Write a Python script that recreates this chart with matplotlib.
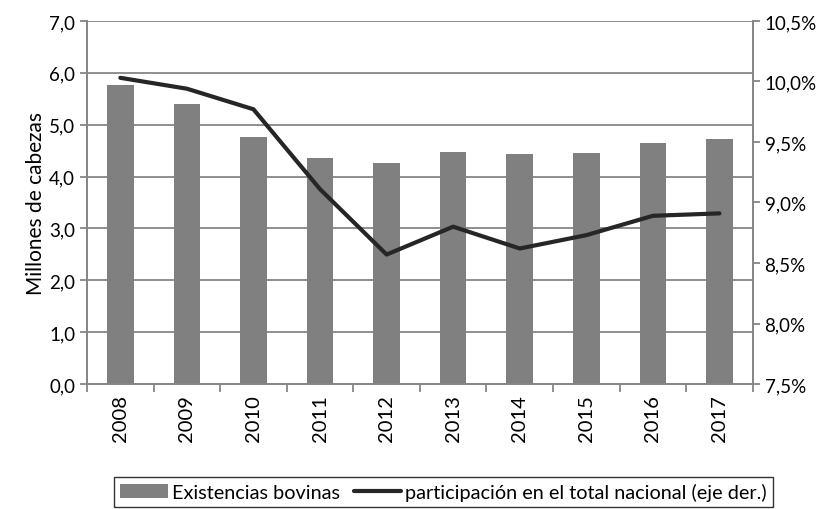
import matplotlib.pyplot as plt
import numpy as np

plt.rcParams['font.family'] = ['Lato', 'DejaVu Sans']

# datos
anios = ['2008', '2009', '2010', '2011', '2012', '2013', '2014', '2015', '2016', '2017']
existencias = [5.77, 5.39, 4.77, 4.35, 4.26, 4.47, 4.43, 4.46, 4.65, 4.72]  # millones de cabezas
participacion = [10.03, 9.94, 9.77, 9.11, 8.57, 8.80, 8.62, 8.73, 8.89, 8.91]  # % del total nacional

gris = '#808080'
eje = '#868686'

fig = plt.figure(figsize=(8.29, 5.10), dpi=100)
ax = fig.add_axes([0.105, 0.245, 0.803, 0.712])
x = np.arange(len(anios))

ax.bar(x, existencias, width=0.4, color=gris, zorder=2, label='Existencias bovinas')
ax.set_ylim(0, 7)
ax.set_xlim(-0.5, len(anios) - 0.5)
ax.set_yticks(np.arange(0, 7.01, 1))
ax.set_yticklabels([f'{v:.1f}'.replace('.', ',') for v in np.arange(0, 7.01, 1)])
ax.yaxis.grid(True, color=eje, linewidth=1.3, zorder=0)
ax.set_ylabel('Millones de cabezas', fontsize=15, labelpad=2)

ax.set_xticks(x)
ax.set_xticklabels(anios, rotation=90)
ax.set_xticks(np.arange(-0.5, len(anios), 1), minor=True)
ax.tick_params(axis='x', which='major', length=0, pad=7, labelsize=14.5)
ax.tick_params(axis='x', which='minor', length=6, color=eje, width=1.3)
ax.tick_params(axis='y', length=5, color=eje, width=1.3, labelsize=13.5)

ax.spines['top'].set_visible(False)
for s in ['left', 'bottom', 'right']:
    ax.spines[s].set_color(eje)
    ax.spines[s].set_linewidth(1.3)

ax2 = ax.twinx()
ax2.plot(x, participacion, color='#262626', linewidth=3, solid_capstyle='round',
         label='participación en el total nacional (eje der.)')
ax2.set_ylim(7.5, 10.5)
ax2.set_yticks(np.arange(7.5, 10.51, 0.5))
ax2.set_yticklabels([f'{v:.1f}%'.replace('.', ',') for v in np.arange(7.5, 10.51, 0.5)])
ax2.tick_params(axis='y', labelsize=13.5, length=5, color=eje, width=1.3)
ax2.spines['top'].set_visible(False)
for s in ['left', 'bottom', 'right']:
    ax2.spines[s].set_color(eje)
    ax2.spines[s].set_linewidth(1.3)

h1, l1 = ax.get_legend_handles_labels()
h2, l2 = ax2.get_legend_handles_labels()
leg = fig.legend(h1 + h2, l1 + l2, loc='lower center', bbox_to_anchor=(0.535, 0.0),
                 ncol=2, fontsize=14.3, frameon=True, fancybox=False,
                 edgecolor='black', handlelength=2.4, columnspacing=0.7,
                 handletextpad=0.2, borderpad=0.3, borderaxespad=0.1)
leg.get_frame().set_linewidth(1.0)

fig.savefig('out.png', dpi=100)
